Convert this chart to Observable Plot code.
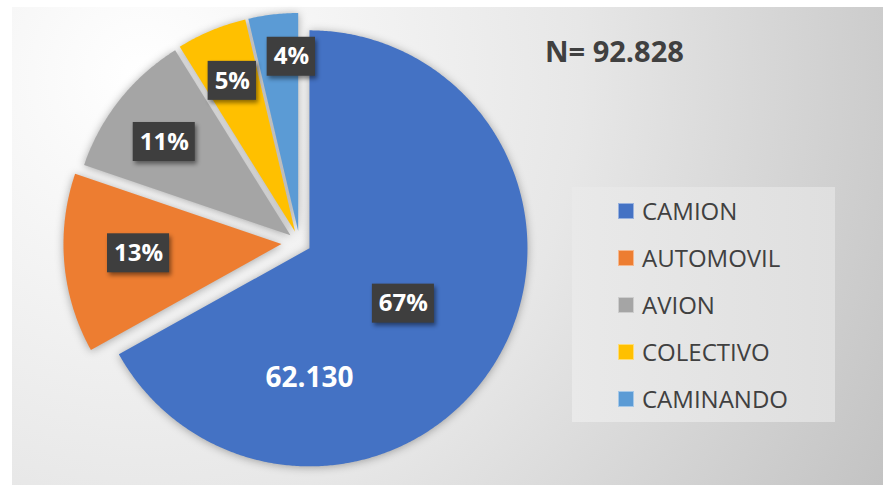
<!DOCTYPE html>
<html>
<head>
<meta charset="utf-8">
<script src="https://cdn.jsdelivr.net/npm/d3@7"></script>
<script src="https://cdn.jsdelivr.net/npm/@observablehq/plot@0.6"></script>
<style>
  html, body { margin: 0; padding: 0; background: #fff; }
  #wrap { position: relative; width: 883px; height: 485px; overflow: hidden; background: #fff; font-family: "Open Sans", "Noto Sans", sans-serif; }
  #bg { position: absolute; left: 12px; top: 7px; right: 0; bottom: 0;
        background: radial-gradient(circle farthest-corner at 130px 70px, #ffffff 0%, #e7e7e7 52%, #c3c3c3 100%); }
  #chart { position: absolute; left: 0; top: 0; }
  #chart g[aria-label="line"] { filter: drop-shadow(0px 1px 4px rgba(0,0,0,0.32)); }
  #chart g[aria-label="rect"] rect { filter: drop-shadow(2px 3px 2px rgba(0,0,0,0.45)); }
  #ntext { position: absolute; left: 545px; top: 36px; font-size: 29px; line-height: 29px; font-weight: 700; color: #404040; white-space: nowrap; }
  #legend { position: absolute; left: 572px; top: 187px; width: 263px; height: 235px;
            background: linear-gradient(90deg, #e9e9e9, #dfdfdf); }
  .item { height: 47px; display: flex; align-items: center; padding-left: 46px; }
  .sw { width: 14px; height: 14px; border: 1px solid rgba(255,255,255,0.45); margin-right: 8px; flex: none; }
  .lab { font-size: 24px; line-height: 24px; color: #404040; white-space: nowrap; }
</style>
</head>
<body>
<div id="wrap">
  <div id="bg"></div>
  <div id="chart"></div>
  <div id="ntext"></div>
  <div id="legend"></div>
</div>
<script>
// ---- data ----
const categories = ["CAMION", "AUTOMOVIL", "AVION", "COLECTIVO", "CAMINANDO"];
const values = [62130, 12346, 10118, 4827, 3407];
const colors = ["#4472C4", "#ED7D31", "#A5A5A5", "#FFC000", "#5B9BD5"];

// ---- layout (pie explosion and label placement, in radius units) ----
const explode = [0.053, 0.083, 0.053, 0.053, 0.053];
const labelRadius = [0.5, 0.657, 0.72, 0.75, 0.80];
const labelTurn = [0.5, 0.53, 0.45, 0.5, 0.83];
const valueLabelAngle = Math.PI; // direction of the count label inside the first slice
const valueLabelRadius = 0.595;

const W = 883, H = 485;
const R = 218;           // pixels per radius unit
const cx0 = 299, cy0 = 242; // pie centre in pixels

const total = d3.sum(values);
const locale = d3.formatLocale({decimal: ",", thousands: ".", grouping: [3], currency: ["", ""]});
const fmtN = locale.format(",");
const fmtP = d3.format(".0%");

const arcs = d3.pie().sort(null).value(d => d)(values);

const slicePts = [];
const labels = [];
arcs.forEach((a, i) => {
  const mid = (a.startAngle + a.endAngle) / 2;
  const ox = explode[i] * Math.sin(mid), oy = -explode[i] * Math.cos(mid);
  slicePts.push({cat: categories[i], x: ox, y: oy});
  const n = Math.max(2, Math.ceil((a.endAngle - a.startAngle) / (Math.PI / 360)));
  for (let k = 0; k <= n; k++) {
    const t = a.startAngle + (a.endAngle - a.startAngle) * k / n;
    slicePts.push({cat: categories[i], x: ox + Math.sin(t), y: oy - Math.cos(t)});
  }
  const la = a.startAngle + labelTurn[i] * (a.endAngle - a.startAngle);
  labels.push({
    cat: categories[i],
    text: fmtP(values[i] / total),
    x: ox + labelRadius[i] * Math.sin(la),
    y: oy - labelRadius[i] * Math.cos(la)
  });
});

// count label in first slice
const a0 = arcs[0];
const mid0 = (a0.startAngle + a0.endAngle) / 2;
const valueLabels = [{
  text: fmtN(values[0]),
  x: explode[0] * Math.sin(mid0) + valueLabelRadius * Math.sin(valueLabelAngle),
  y: -explode[0] * Math.cos(mid0) - valueLabelRadius * Math.cos(valueLabelAngle)
}];

// label boxes sized from the measured text
const ctx = document.createElement("canvas").getContext("2d");
ctx.font = "bold 24px 'Open Sans'";
const boxH = 39 / R;
const boxes = labels.map(d => {
  const w = (ctx.measureText(d.text).width + 13) / R;
  return {x1: d.x - w / 2, x2: d.x + w / 2, y1: d.y - boxH / 2, y2: d.y + boxH / 2};
});

const plot = Plot.plot({
  width: W,
  height: H,
  margin: 0,
  style: {background: "transparent", overflow: "visible"},
  x: {domain: [-cx0 / R, (W - cx0) / R], range: [0, W], axis: null},
  y: {domain: [-cy0 / R, (H - cy0) / R], range: [0, H], axis: null},
  color: {domain: categories, range: colors},
  marks: [
    Plot.line(slicePts, {x: "x", y: "y", z: "cat", fill: "cat", stroke: "none", curve: "linear-closed"}),
    Plot.rect(boxes, {x1: "x1", x2: "x2", y1: "y1", y2: "y2", fill: "#3e3e3e"}),
    Plot.text(labels, {x: "x", y: "y", text: "text", fill: "white", fontSize: 24, fontWeight: "bold", fontFamily: "'Open Sans', sans-serif"}),
    Plot.text(valueLabels, {x: "x", y: "y", text: "text", fill: "white", fontSize: 28, fontWeight: "bold", fontFamily: "'Open Sans', sans-serif"})
  ]
});
document.getElementById("chart").appendChild(plot);

document.getElementById("ntext").textContent = "N= " + fmtN(total);

const legend = document.getElementById("legend");
categories.forEach((c, i) => {
  const item = document.createElement("div");
  item.className = "item";
  const sw = document.createElement("div");
  sw.className = "sw";
  sw.style.background = colors[i];
  const lab = document.createElement("div");
  lab.className = "lab";
  lab.textContent = c;
  item.appendChild(sw);
  item.appendChild(lab);
  legend.appendChild(item);
});
</script>
</body>
</html>
